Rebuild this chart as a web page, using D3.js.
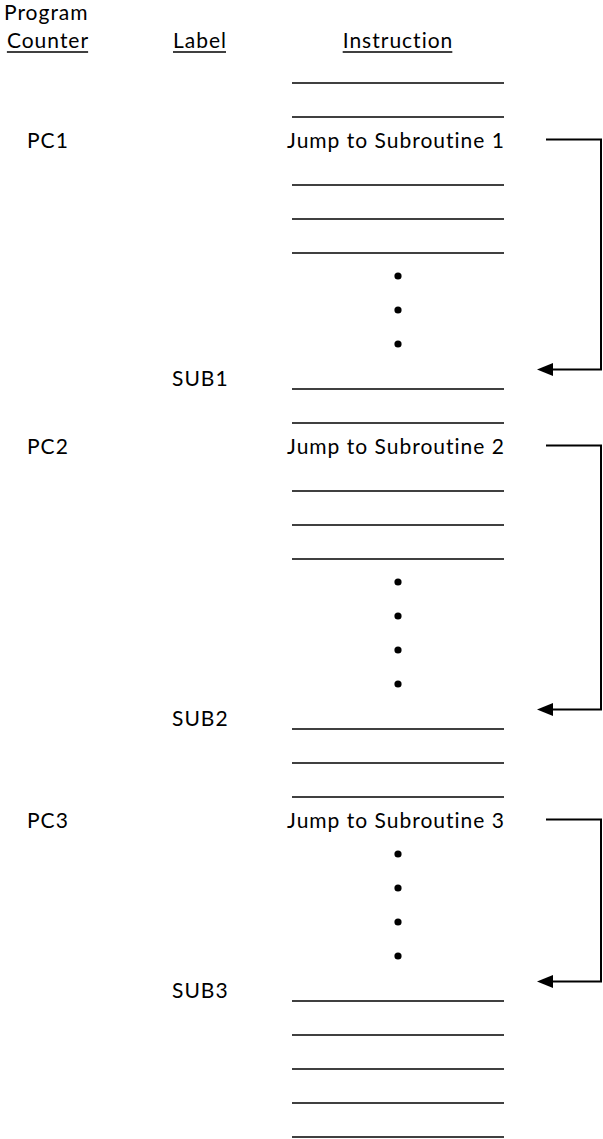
<!DOCTYPE html>
<html><head><meta charset="utf-8">
<script src="https://cdn.jsdelivr.net/npm/d3@7"></script>
<style>html,body{margin:0;padding:0;background:#fff;}svg{display:block;}</style>
</head><body>
<script>
// ---- data ----
const headers = [
  {lines: ["Program", "Counter"], col: "pc"},
  {lines: ["Label"], col: "label"},
  {lines: ["Instruction"], col: "instr"}
];
// one entry per memory row; "" = blank instruction line, "•" = ellipsis dot
const instructions = [
  "", "", "Jump to Subroutine 1", "", "", "", "•", "•", "•",
  "", "", "Jump to Subroutine 2", "", "", "", "•", "•", "•", "•",
  "", "", "", "Jump to Subroutine 3", "•", "•", "•", "•",
  "", "", "", "", ""
];
const counters = [{row: 2, text: "PC1"}, {row: 11, text: "PC2"}, {row: 22, text: "PC3"}];
const labels = [{row: 9, text: "SUB1"}, {row: 19, text: "SUB2"}, {row: 27, text: "SUB3"}];
const jumps = [{from: 2, to: 9}, {from: 11, to: 19}, {from: 22, to: 27}];

// ---- layout ----
const W = 603, H = 1139;
const FONT = "Lato, 'Open Sans', sans-serif";
const FS = 21;
const LS = "1px";
const svg = d3.select("body").append("svg").attr("width", W).attr("height", H);

const y = d3.scaleLinear().domain([0, instructions.length - 1]).range([80, 80 + 34 * (instructions.length - 1)]);
const colX = {pc: 48, label: 200, instr: 398};
const blankX = [292, 504];

function styleText(sel) {
  return sel.attr("font-family", FONT).attr("font-size", FS).attr("letter-spacing", LS).attr("fill", "#000");
}

// headers
headers.forEach(h => {
  h.lines.forEach((t, i) => {
    const last = i === h.lines.length - 1;
    const by = 48 - (h.lines.length - 1 - i) * 28;
    const txt = styleText(svg.append("text")).attr("x", h.col === "pc" && !last ? 4 : colX[h.col])
      .attr("y", by).attr("text-anchor", h.col === "pc" && !last ? "start" : "middle").text(t);
    if (last) {
      const bb = txt.node().getBBox();
      svg.append("line").attr("x1", bb.x).attr("x2", bb.x + bb.width - 1)
        .attr("y1", by + 4).attr("y2", by + 4).attr("stroke", "#000").attr("stroke-width", 1.6);
    }
  });
});

// instruction rows
const rows = svg.append("g");
instructions.forEach((t, i) => {
  const by = y(i);
  if (t === "") {
    rows.append("line").attr("x1", blankX[0]).attr("x2", blankX[1])
      .attr("y1", by + 3).attr("y2", by + 3).attr("stroke", "#000").attr("stroke-width", 1.5);
  } else if (t === "•") {
    rows.append("circle").attr("cx", colX.instr).attr("cy", by - 8).attr("r", 3.6).attr("fill", "#000");
  } else {
    styleText(rows.append("text")).attr("x", colX.instr - 2).attr("y", by)
      .attr("text-anchor", "middle").text(t);
  }
});

styleText(svg.selectAll("text.pc").data(counters).join("text").attr("class", "pc"))
  .attr("x", 27).attr("y", d => y(d.row)).text(d => d.text);
styleText(svg.selectAll("text.lbl").data(labels).join("text").attr("class", "lbl"))
  .attr("x", 172).attr("y", d => y(d.row)).text(d => d.text);

// jump brackets
const bx0 = 546, bx1 = 601, tipX = 537, headLen = 16, headHalf = 6.5;
jumps.forEach(j => {
  const yt = y(j.from) - 8.5, yb = y(j.to) - 16.5;
  svg.append("path").attr("d", `M${bx0},${yt}H${bx1}V${yb}H${tipX + headLen - 1}`)
    .attr("fill", "none").attr("stroke", "#000").attr("stroke-width", 2);
  svg.append("path").attr("d", `M${tipX},${yb}L${tipX + headLen},${yb - headHalf}L${tipX + headLen},${yb + headHalf}Z`)
    .attr("fill", "#000");
});
</script>
</body></html>
